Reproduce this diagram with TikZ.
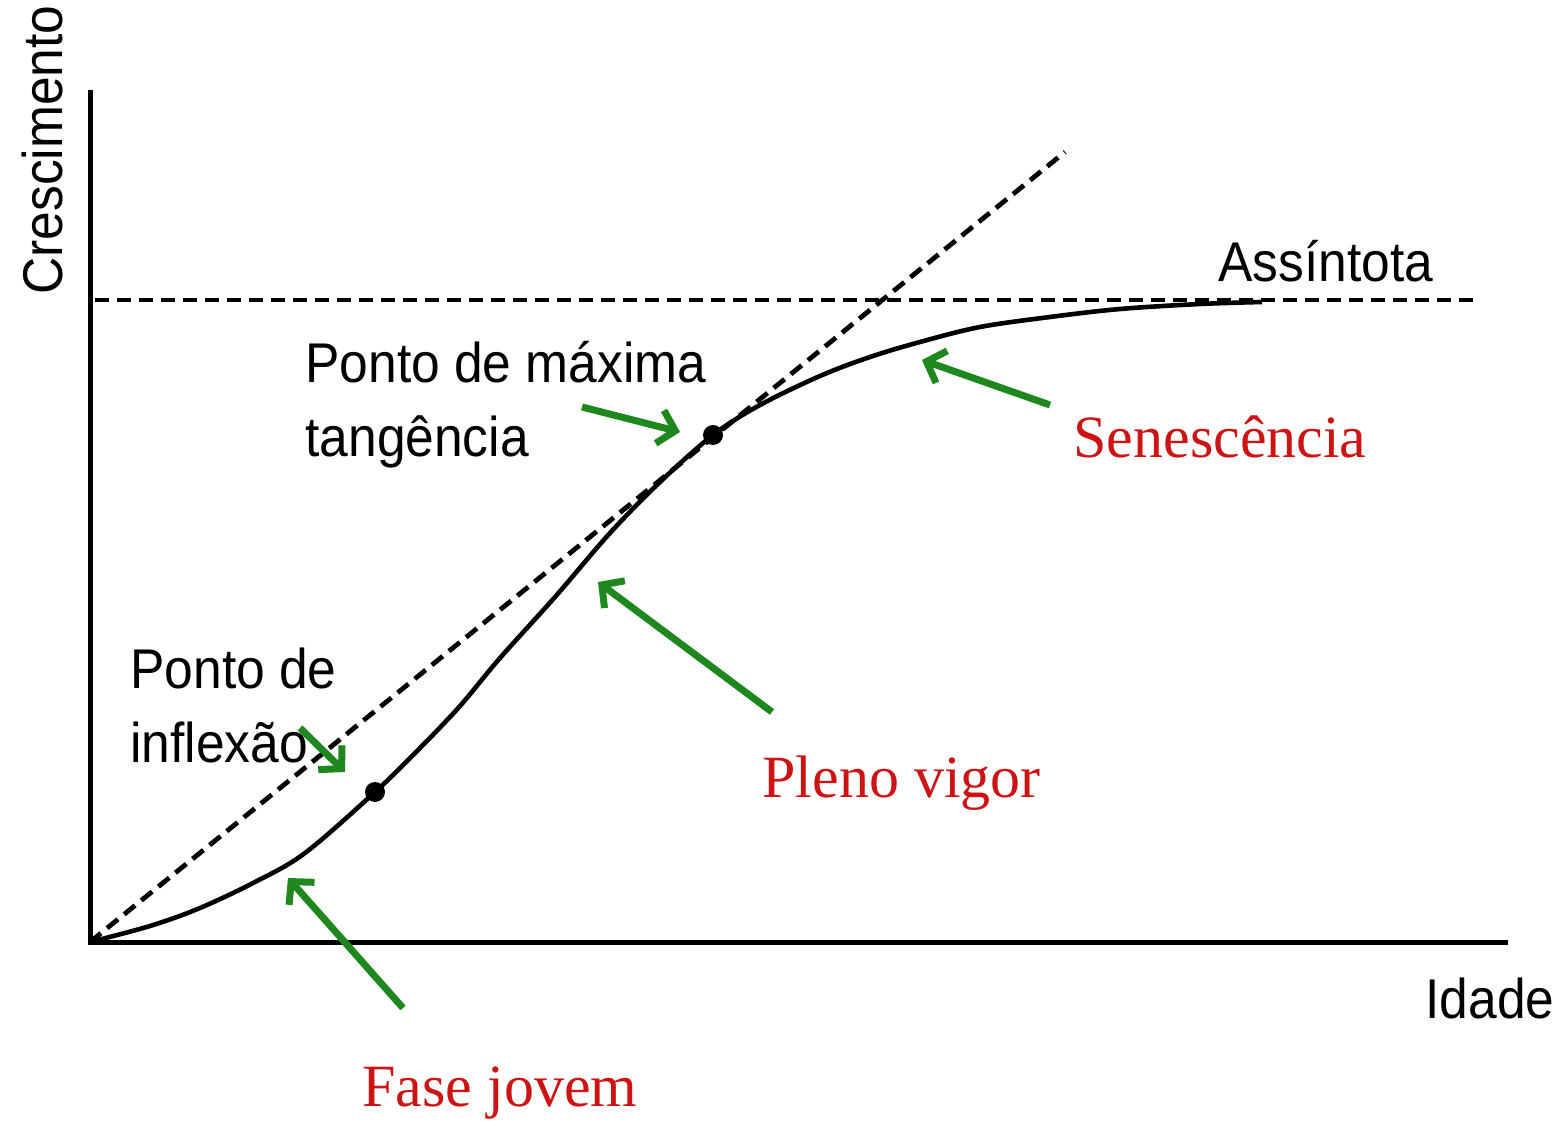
\documentclass[tikz,border=0pt]{standalone}
\usepackage{fontspec}
\usetikzlibrary{arrows.meta}
\newfontfamily\arialn[FakeStretch=0.92]{Liberation Sans}
\newfontfamily\timesr{Liberation Serif}
\definecolor{arrgreen}{RGB}{30,135,30}
\definecolor{lblred}{RGB}{205,20,20}
\tikzset{
  axis/.style={line width=2.5pt},
  guide/.style={line width=2.4pt, dash pattern=on 7pt off 4pt},
  curve/.style={line width=2.3pt},
  pointer/.style={arrgreen, line width=3.5pt, -{Straight Barb[length=8pt,width=17pt]}},
  blk/.style={font=\arialn\fontsize{28}{37}\selectfont, inner sep=0pt, anchor=base west, align=left},
  redl/.style={font=\timesr\fontsize{30}{36}\selectfont, text=lblred, inner sep=0pt, anchor=base west},
  dot/.style={circle, fill=black, inner sep=0pt, minimum size=10pt}
}
\begin{document}
\begin{tikzpicture}[x=0.5pt,y=-0.5pt]
\useasboundingbox (0,0) rectangle (1563,1122);
% axes
\coordinate (O) at (90,942);
\coordinate (ytop) at (90,90);
\coordinate (xend) at (1508,942);
\draw[axis] (ytop) -- (O) -- (xend);
% guides
\coordinate (asA) at (95,300);
\coordinate (asB) at (1480,300);
\draw[guide] (asA) -- (asB);
\coordinate (tgB) at (1065,152);
\draw[guide] (O) -- (tgB);
% curve
\draw[curve] plot[smooth, tension=0.55] coordinates {(90,942) (150,926) (200,908) (255,882) (305,853) (375,792) (420,748) (460,706) (500,658) (555,597) (610,533) (660,482) (713,435) (760,405) (820,376) (870,357) (920,342) (980,327) (1050,317) (1120,309) (1200,304) (1262,302)};
\node[dot] (infl) at (375,792) {};
\node[dot] (maxt) at (713,435) {};
% labels
\node[blk, rotate=90] (ylab) at (62,295) {Crescimento};
\node[blk] (xlab) at (1425,1018) {Idade};
\node[blk] (asl) at (1218,282) {Assíntota};
\node[blk] (maxl) at (305,457) {Ponto de máxima\\tangência};
\node[blk] (infll) at (130,762) {Ponto de\\inflexão};
\node[redl] (sen) at (1073,458) {Senescência};
\node[redl] (plv) at (762,797) {Pleno vigor};
\node[redl] (fj) at (362,1106) {Fase jovem};
% pointer arrows
\coordinate (a1s) at (582,407); \coordinate (a1e) at (680,432);
\coordinate (a2s) at (300,728); \coordinate (a2e) at (345,772);
\coordinate (a3s) at (1050,405); \coordinate (a3e) at (922,360);
\coordinate (a4s) at (772,712); \coordinate (a4e) at (598,582);
\coordinate (a5s) at (403,1008); \coordinate (a5e) at (288,878);
\draw[pointer] (a1s) -- (a1e);
\draw[pointer] (a2s) -- (a2e);
\draw[pointer] (a3s) -- (a3e);
\draw[pointer] (a4s) -- (a4e);
\draw[pointer] (a5s) -- (a5e);
\end{tikzpicture}
\end{document}
